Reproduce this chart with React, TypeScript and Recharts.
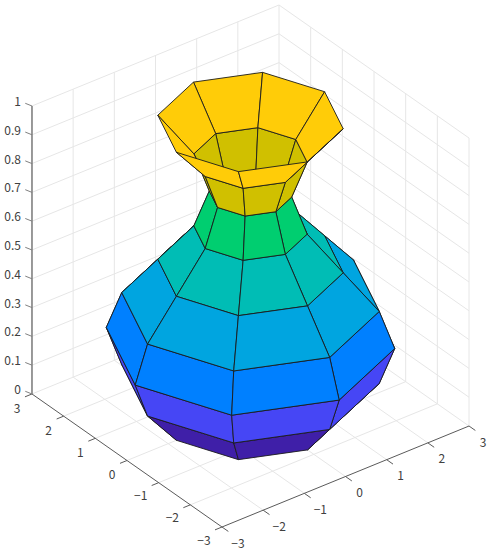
import React from "react";
import { ScatterChart, Scatter, XAxis, YAxis, Polygon } from "recharts";

const xTicks = [-3, -2, -1, 0, 1, 2, 3];
const yTicks = [-3, -2, -1, 0, 1, 2, 3];
const zTicks = [0, 0.1, 0.2, 0.3, 0.4, 0.5, 0.6, 0.7, 0.8, 0.9, 1];
const zLabels = ["0", "0.1", "0.2", "0.3", "0.4", "0.5", "0.6", "0.7", "0.8", "0.9", "1"];
const ringZ = [0, 0.125, 0.25, 0.375, 0.5, 0.625, 0.75, 0.875, 1];
const ringRadius = [1.8, 2.5, 2.8, 2.5, 1.8, 1.1, 0.8, 1.1, 1.8];
const ringAngles = [0, 45, 90, 135, 180, 225, 270, 315];
const bandColors = ["#3F1FA8", "#4646F5", "#0080FF", "#00A5E0", "#00BDB5", "#00CE70", "#D0C000", "#FFCC08"];

const GRID = "#e6e6e6";
const AXIS = "#5a5a5a";
const EDGE = "#1c1c1c";
const TEXT = "#404040";
const FONT = "'Noto Sans CJK JP', 'Noto Sans', sans-serif";

type P3 = [number, number, number];
// orthographic view of the axes box, onto the chart's horizontal and vertical value axes
const project = ([x, y, z]: P3) => ({
  x: 250.5 + 41.17 * x - 31.67 * y,
  y: 410 - 16.83 * x - 22.17 * y - 288 * z,
});
const depth = ([x, y, z]: P3) => -0.517 * x - 0.67 * y + 3.47 * z;

const Nothing = () => <g />;

const vertex = (ring: number, a: number): P3 => {
  const t = (ringAngles[a % ringAngles.length] * Math.PI) / 180;
  return [ringRadius[ring] * Math.cos(t), ringRadius[ring] * Math.sin(t), ringZ[ring]];
};

const facets = bandColors
  .flatMap((fill, band) =>
    ringAngles.map((_, a) => {
      const corners = [vertex(band, a), vertex(band, a + 1), vertex(band + 1, a + 1), vertex(band + 1, a)];
      const c: P3 = [0, 1, 2].map((k) => corners.reduce((s, v) => s + v[k], 0) / 4) as P3;
      return { fill, key: `f${band}-${a}`, depth: depth(c), points: corners.map(project) };
    })
  )
  .sort((a, b) => a.depth - b.depth);

const gridLines: P3[][] = [
  ...zTicks.slice(1).flatMap((z): P3[][] => [
    [[-3, 3, z], [3, 3, z]],
    [[3, 3, z], [3, -3, z]],
  ]),
  ...xTicks.slice(1).map((x): P3[] => [[x, 3, 0], [x, 3, 1]]),
  ...yTicks.slice(0, -1).map((y): P3[] => [[3, y, 0], [3, y, 1]]),
  ...xTicks.slice(1).map((x): P3[] => [[x, -3, 0], [x, 3, 0]]),
  ...yTicks.slice(1).map((y): P3[] => [[-3, y, 0], [3, y, 0]]),
];

const axisLines: P3[][] = [
  [[-3, 3, 0], [-3, -3, 0]],
  [[-3, -3, 0], [3, -3, 0]],
  ...xTicks.map((x): P3[] => [[x, -3, 0], [x, -3.2, 0]]),
  ...yTicks.map((y): P3[] => [[-3, y, 0], [-3.17, y, 0]]),
];
const zAxisLines: P3[][] = [
  [[-3, 3, 0], [-3, 3, 1]],
  ...zTicks.map((z): P3[] => [[-3, 3, z], [-3.044, 3.155, z]]),
];

const minus = (v: number) => (v < 0 ? `\u2212${-v}` : `${v}`);
const xLabelData = xTicks.map((v) => ({ ...project([v, -3, 0]), label: minus(v), dx: v < 0 ? 16 : 14, dy: 15, anchor: "middle" }));
const yLabelData = yTicks.map((v) => ({ ...project([-3, v, 0]), label: minus(v), dx: v < 0 ? -18 : -15, dy: v < 0 ? 12 : 13.3, anchor: "middle" }));
const zLabelData = zTicks.map((v, i) => ({ ...project([-3, 3, v]), label: zLabels[i], dx: -11, dy: -5.5, anchor: "end" }));

const TickLabel = (p: any) => (
  <text
    x={p.cx + p.payload.dx}
    y={p.cy + p.payload.dy}
    textAnchor={p.payload.anchor}
    dominantBaseline="central"
    fontFamily={FONT}
    fontSize={12}
    fill={TEXT}
  >
    {p.payload.label}
  </text>
);

const segment = (pts: P3[], key: string, stroke: string, strokeWidth: number) => (
  <Scatter
    key={key}
    data={pts.map(project)}
    shape={Nothing}
    line={{ stroke, strokeWidth }}
    fill={stroke}
    isAnimationActive={false}
  />
);

export default function App() {
  return (
    <div style={{ position: "absolute", left: 0, top: 0 }}>
      <ScatterChart width={491} height={550} margin={{ top: 0, right: 0, bottom: 0, left: 0 }}>
        <XAxis dataKey="x" type="number" domain={[0, 491]} hide allowDataOverflow />
        <YAxis dataKey="y" type="number" domain={[0, 550]} reversed hide allowDataOverflow />
        {gridLines.map((l, i) => segment(l, `g${i}`, GRID, 1))}
        {axisLines.map((l, i) => segment(l, `a${i}`, AXIS, 1))}
        {zAxisLines.map((l, i) => segment(l, `z${i}`, "#808080", i === 0 ? 1.6 : 1))}
        {facets.map((f) => (
          <Scatter
            key={f.key}
            data={f.points}
            shape={Nothing}
            isAnimationActive={false}
            line={(p: any) => (
              <Polygon points={p.points} fill={f.fill} stroke={EDGE} strokeWidth={0.9} strokeLinejoin="round" />
            )}
          />
        ))}
        <Scatter data={xLabelData} shape={TickLabel} isAnimationActive={false} />
        <Scatter data={yLabelData} shape={TickLabel} isAnimationActive={false} />
        <Scatter data={zLabelData} shape={TickLabel} isAnimationActive={false} />
      </ScatterChart>
    </div>
  );
}
